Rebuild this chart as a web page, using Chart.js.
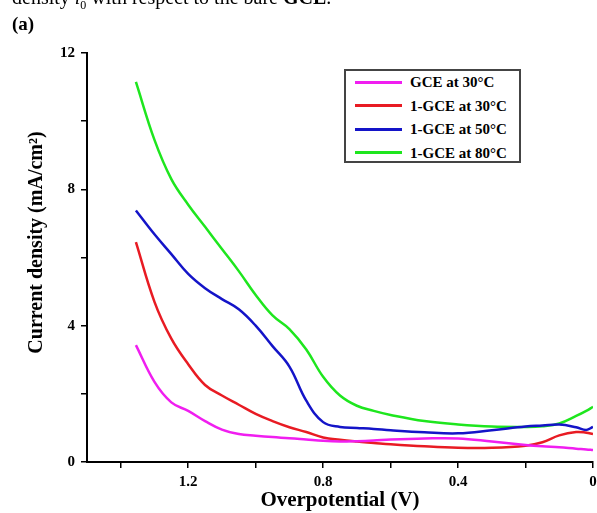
<!DOCTYPE html>
<html>
<head>
<meta charset="utf-8">
<script src="https://cdn.jsdelivr.net/npm/chart.js@4/dist/chart.umd.min.js"></script>
<style>
    body { margin: 0; background: #fff; }
    #wrap { position: relative; width: 597px; height: 513px; overflow: hidden; font-family: "Liberation Serif", serif; }
    #chart { position: absolute; left: 0; top: 0; }
    #caption { position: absolute; left: 12px; top: -13px; font-size: 20px; line-height: 20px; white-space: nowrap; }
    #panel { position: absolute; left: 12px; top: 14px; font-size: 19px; font-weight: bold; line-height: 20px; }
    #legend { position: absolute; left: 344px; top: 69px; width: 173px; height: 90px; border: 2px solid #444; background: #fff; }
    .row { position: absolute; left: 0; height: 20px; display: flex; align-items: center; }
    .swatch { position: absolute; left: 9px; width: 47px; height: 3px; }
    .lbl { position: absolute; left: 64px; font-size: 15px; font-weight: bold; white-space: nowrap; line-height: 20px; }
</style>
</head>
<body>
<div id="wrap">
    <canvas id="chart" width="597" height="513"></canvas>
    <div id="caption">density <i>i</i><sub style="font-size:12px">0</sub> with respect to the bare <b>GCE</b>.</div>
    <div id="panel">(a)</div>
    <div id="legend"></div>
</div>
<script>
// overpotential (V), same grid for every curve
const overpotential = [1.355, 1.3, 1.25, 1.2, 1.15, 1.1, 1.05, 1.0, 0.95, 0.9, 0.85, 0.8, 0.75, 0.7, 0.65, 0.6, 0.5, 0.4, 0.3, 0.2, 0.15, 0.1, 0.05, 0.02, 0];

// current density (mA/cm2)
const gce30  = [3.43, 2.35, 1.75, 1.5, 1.2, 0.95, 0.82, 0.77, 0.73, 0.7, 0.66, 0.62, 0.6, 0.61, 0.63, 0.66, 0.69, 0.69, 0.6, 0.5, 0.46, 0.43, 0.39, 0.37, 0.35];
const gce1_30 = [6.45, 4.7, 3.62, 2.87, 2.26, 1.95, 1.68, 1.41, 1.2, 1.02, 0.88, 0.72, 0.65, 0.6, 0.56, 0.52, 0.46, 0.42, 0.42, 0.48, 0.58, 0.78, 0.88, 0.86, 0.82];
const gce1_50 = [7.38, 6.68, 6.1, 5.52, 5.1, 4.78, 4.48, 4.0, 3.4, 2.8, 1.8, 1.17, 1.03, 1.0, 0.97, 0.93, 0.87, 0.84, 0.93, 1.04, 1.07, 1.1, 1.02, 0.94, 1.03];
const gce1_80 = [11.15, 9.45, 8.3, 7.55, 6.9, 6.25, 5.6, 4.9, 4.3, 3.9, 3.3, 2.5, 1.95, 1.65, 1.5, 1.38, 1.2, 1.1, 1.04, 1.03, 1.05, 1.13, 1.35, 1.5, 1.62];

const seriesLabels = ["GCE at 30\u00B0C", "1-GCE at 30\u00B0C", "1-GCE at 50\u00B0C", "1-GCE at 80\u00B0C"];
const seriesColors = ["#f01ef0", "#e81b23", "#1414c8", "#1ee61e"];

const xTicks = [0, 0.2, 0.4, 0.6, 0.8, 1.0, 1.2, 1.4];
const xLabels = ["0", "", "0.4", "", "0.8", "", "1.2", ""];
const yTicks = [0, 2, 4, 6, 8, 10, 12];
const yLabels = ["0", "", "4", "", "8", "", "12"];

const tickFont = { family: "Liberation Serif", size: 15, weight: "bold" };

const toPoints = ys => overpotential.map((x, i) => ({ x: x, y: ys[i] }));
const allSeries = [gce30, gce1_30, gce1_50, gce1_80];

const datasets = allSeries.map((ys, i) => ({
    label: seriesLabels[i],
    data: toPoints(ys),
    borderColor: seriesColors[i],
    borderWidth: 2.5,
    pointRadius: 0,
    tension: 0.4,
    fill: false
}));

const chart = new Chart(document.getElementById("chart"), {
    type: "line",
    data: { datasets: datasets },
    options: {
        responsive: false,
        animation: false,
        layout: { padding: { top: 53, right: 4, left: 0, bottom: 0 } },
        plugins: { legend: { display: false }, tooltip: { enabled: false } },
        scales: {
            x: {
                type: "linear",
                reverse: true,
                min: 0,
                max: 1.5,
                afterBuildTicks: s => { s.ticks = xTicks.map(v => ({ value: v })); },
                afterFit: s => { s.height = 51; },
                border: { color: "#000", width: 2 },
                grid: { drawOnChartArea: false, tickLength: 6, color: "#000", lineWidth: 1.5 },
                ticks: {
                    font: tickFont, color: "#000", padding: 5, maxRotation: 0,
                    callback: (v) => xLabels[xTicks.indexOf(Math.round(v * 10) / 10)] ?? ""
                },
                title: {
                    display: true, text: "Overpotential (V)", color: "#000",
                    font: { family: "Liberation Serif", size: 21, weight: "bold" },
                    padding: { top: 0, bottom: 0 }
                }
            },
            y: {
                min: 0,
                max: 12,
                afterBuildTicks: s => { s.ticks = yTicks.map(v => ({ value: v })); },
                afterFit: s => { s.width = 87; },
                border: { color: "#000", width: 2 },
                grid: { drawOnChartArea: false, tickLength: 6, color: "#000", lineWidth: 1.5 },
                ticks: {
                    font: tickFont, color: "#000", padding: 6,
                    callback: (v) => yLabels[yTicks.indexOf(v)] ?? ""
                },
                title: {
                    display: true, text: "\u2002\u2002\u2002Current density (mA/cm\u00B2)", color: "#000",
                    font: { family: "Liberation Serif", size: 20, weight: "bold" },
                    padding: { top: 25, bottom: 0 }
                }
            }
        }
    }
});

// legend box inside the plot
const legend = document.getElementById("legend");
chart.data.datasets.forEach((ds, i) => {
    const row = document.createElement("div");
    row.className = "row";
    row.style.top = (1 + i * 23.5) + "px";
    row.innerHTML = `<span class="swatch" style="background:${ds.borderColor}"></span><span class="lbl">${ds.label}</span>`;
    legend.appendChild(row);
});
</script>
</body>
</html>
